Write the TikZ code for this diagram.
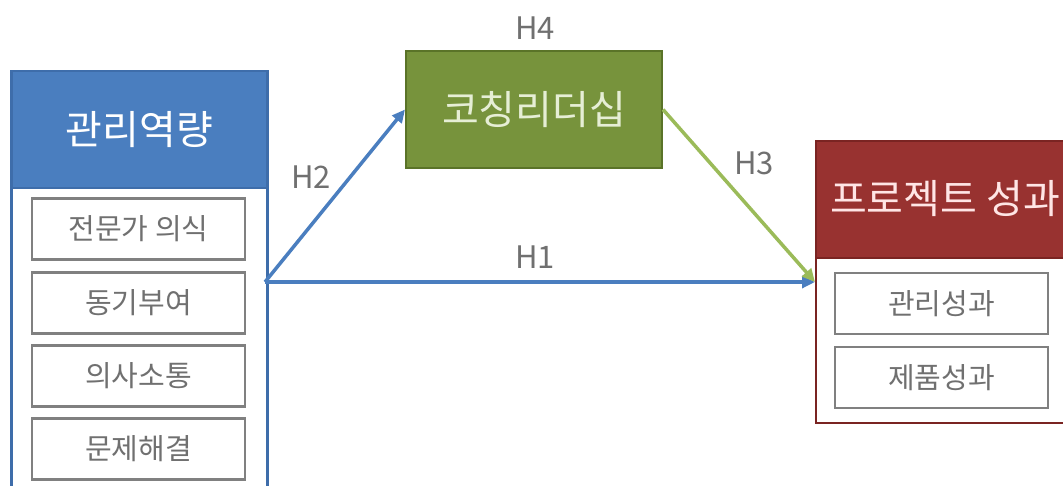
\documentclass[tikz,border=0pt]{standalone}
\usepackage{fontspec}
\setmainfont{Noto Sans CJK KR}
\usetikzlibrary{arrows.meta}
\definecolor{blueC}{HTML}{4A7EBF}
\definecolor{blueB}{HTML}{3E6DAA}
\definecolor{greenC}{HTML}{77933C}
\definecolor{greenB}{HTML}{5A7328}
\definecolor{greenA}{HTML}{9BBB59}
\definecolor{redC}{HTML}{983230}
\definecolor{redB}{HTML}{7A2422}
\definecolor{grayB}{HTML}{808080}
\definecolor{grayT}{HTML}{707070}
\tikzset{
  hdr/.style={anchor=north west, inner sep=0pt, minimum height=117pt, font=\fontsize{40}{44}\selectfont},
  outerbox/.style={anchor=north west, inner sep=0pt, fill=white, line width=2.5pt},
  itembox/.style={draw=grayB, line width=2.2pt, fill=white, minimum width=213pt, minimum height=61pt, inner sep=0pt, text=grayT, font=\fontsize{29}{32}\selectfont},
  hlabel/.style={text=grayT, font=\fontsize{31}{34}\selectfont, inner sep=0pt},
  conn/.style={line width=3.5pt, -{Triangle[length=13pt,width=12pt]}}
}
\begin{document}
\begin{tikzpicture}[x=1pt,y=-1pt]
\useasboundingbox (0,0) rectangle (1063,486);
\clip (0,0) rectangle (1063,486);
% left block
\node[outerbox, draw=blueB, minimum width=256pt, minimum height=450pt] (left) at (10,70) {};
\node[hdr, fill=blueC, draw=blueB, line width=2.5pt, minimum width=256pt, text=white] (lefthdr) at (10,70) {관리역량};
\node[itembox] (l1) at (138.5,229) {전문가 의식};
\node[itembox] (l2) at (138.5,303) {동기부여};
\node[itembox] (l3) at (138.5,376) {의사소통};
\node[itembox] (l4) at (138.5,449) {문제해결};
% green block
\node[hdr, fill=greenC, draw=greenB, line width=2pt, minimum width=256pt, text={greenA!25!white}] (green) at (405,50) {코칭리더십};
\node[hlabel] (h4) at (535,28) {H4};
% red block
\node[outerbox, draw=redB, line width=2pt, minimum width=300pt, minimum height=282pt] (red) at (815,140) {};
\node[hdr, fill=redC, draw=redB, line width=2pt, minimum width=300pt, text={red!10!white}] (redhdr) at (815,140) {};
\node[font=\fontsize{40}{44}\selectfont, text={red!10!white}, inner sep=0pt] (redtitle) at (945,199) {프로젝트 성과};
\node[itembox] (r1) at (941.5,303.5) {관리성과};
\node[itembox] (r2) at (941.5,377.5) {제품성과};
% connectors
\coordinate (src) at (265,282);
\coordinate (dst) at (815,282);
\draw[conn, draw=blueC, fill=blueC] (src) -- (dst);
\draw[conn, draw=blueC, fill=blueC] (src) -- (green.west);
\draw[conn, draw=greenA, fill=greenA] (green.east) -- (dst);
\node[hlabel] (h1) at (535,257) {H1};
\node[hlabel] (h2) at (311,177) {H2};
\node[hlabel] (h3) at (754,163) {H3};
\end{tikzpicture}
\end{document}
